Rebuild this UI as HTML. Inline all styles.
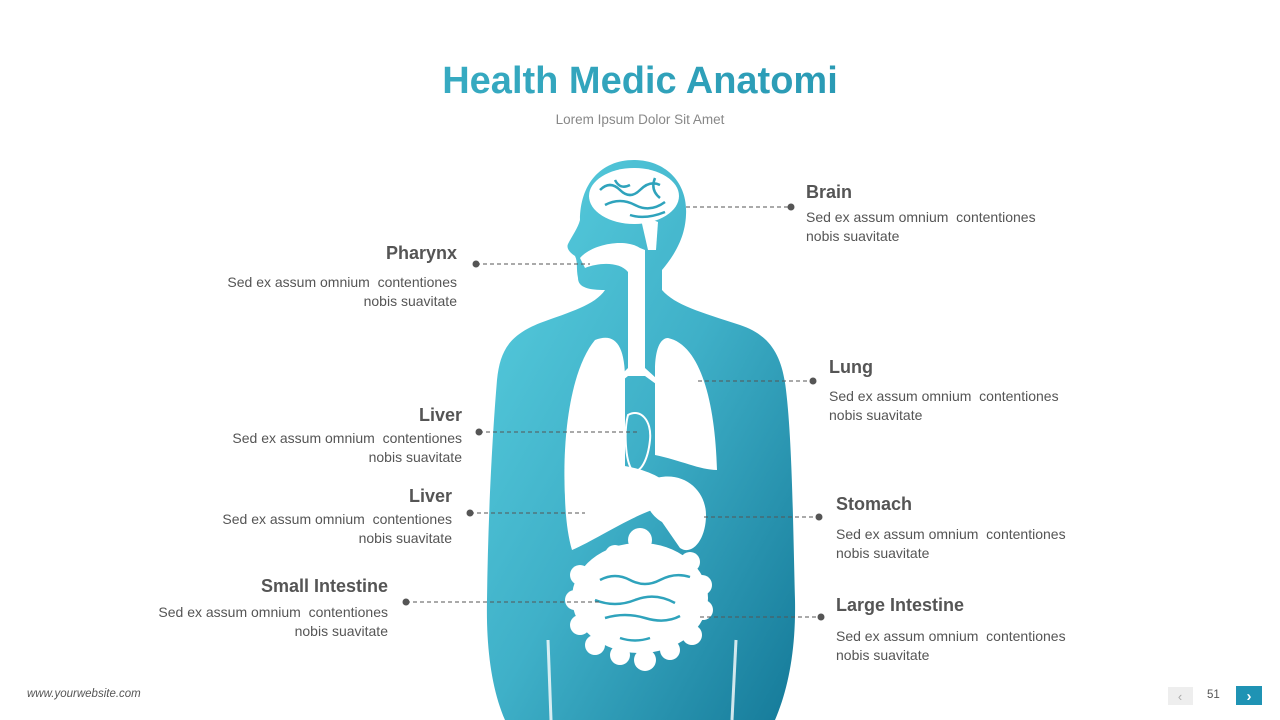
<!DOCTYPE html>
<html><head><meta charset="utf-8"><style>
body{margin:0;width:1280px;height:720px;position:relative;overflow:hidden;background:#fff;font-family:"Liberation Sans",sans-serif;color:#555}
.t{position:absolute;white-space:nowrap}
h1{position:absolute;left:0;width:1280px;top:60px;margin:0;text-align:center;font-size:38px;font-weight:bold;color:#2ba6bf;background:linear-gradient(90deg,#45bdd0,#1c88a6);-webkit-background-clip:text;background-clip:text;-webkit-text-fill-color:transparent}
.sub{left:0;width:1280px;text-align:center;top:112px;font-size:13.5px;color:#888}
.h{font-size:18px;font-weight:bold;color:#555}
.p{font-size:14px;line-height:19px;color:#555}
.r{text-align:right}
</style></head><body>
<h1>Health Medic Anatomi</h1>
<div class="t sub">Lorem Ipsum Dolor Sit Amet</div>

<svg width="1280" height="720" style="position:absolute;left:0;top:0">
<defs><linearGradient id="g" x1="0" y1="0" x2="1" y2="1">
<stop offset="0" stop-color="#5ad0e0"/><stop offset="0.5" stop-color="#3fb0c8"/><stop offset="1" stop-color="#157a99"/></linearGradient></defs>
<path fill="url(#g)" d="M634,160 C665,160 688,182 686,215 C685,240 672,258 662,270 L662,290 C675,305 700,312 740,325 C770,335 782,355 786,390 C792,440 793,520 795,600 C796,650 788,690 775,720 L505,720 C492,690 486,650 487,600 C488,520 492,440 497,380 C500,350 510,335 540,323 C570,312 595,305 605,290 C590,290 578,288 578,278 C576,268 578,262 575,256 C570,253 566,248 568,244 C572,236 578,228 580,220 C580,185 600,160 634,160 Z"/>
<g stroke="#fff" stroke-width="3" opacity="0.8"><line x1="548" y1="640" x2="551" y2="720"/><line x1="736" y1="640" x2="732" y2="720"/></g>
<g fill="#fff">
<ellipse cx="634" cy="196" rx="45" ry="28"/>
<path d="M640,215 L658,222 L656,250 L648,250 Z"/>
<path d="M580,258 C592,244 625,238 640,248 L645,250 L645,372 L628,372 L628,272 C620,262 600,262 585,268 Z"/>
<path d="M628,368 L645,368 L656,378 L656,384 L645,376 L628,376 L618,384 L618,378 Z"/>
<path d="M595,340 C615,332 625,345 625,380 L625,470 C610,490 590,495 565,495 C562,440 570,370 595,340 Z"/>
<path d="M668,338 C700,345 715,400 717,470 C700,470 680,460 655,455 L655,370 C655,350 660,338 668,338 Z"/>
<path d="M565,470 C600,458 640,466 660,478 L652,510 C625,520 595,540 572,550 C566,530 564,500 565,470 Z"/>
<path d="M650,480 C680,468 706,488 706,515 C706,540 692,556 680,548 L662,522 C650,515 640,500 650,480 Z"/>
<ellipse cx="640" cy="598" rx="68" ry="55"/>
<circle cx="580" cy="575" r="10"/><circle cx="575" cy="600" r="10"/><circle cx="580" cy="625" r="10"/><circle cx="595" cy="645" r="10"/>
<circle cx="620" cy="655" r="10"/><circle cx="645" cy="660" r="11"/><circle cx="670" cy="650" r="10"/><circle cx="692" cy="635" r="10"/>
<circle cx="703" cy="610" r="10"/><circle cx="702" cy="585" r="10"/><circle cx="690" cy="562" r="10"/><circle cx="640" cy="540" r="12"/><circle cx="615" cy="555" r="10"/>
</g>
<g fill="none" stroke="#2fa3bc" stroke-width="2.5">
<path d="M600,190 q10,-10 20,0 t20,0 t20,-5 M605,205 q15,-8 30,0 t30,-3 M615,180 q5,10 15,5 M655,178 q-5,12 5,20 M630,215 q15,5 35,-3"/>
<path d="M600,580 q15,-8 30,0 t30,0 t30,-3 M595,600 q20,8 40,0 t40,3 M605,618 q20,-6 40,0 t35,-2 M620,638 q15,5 30,0"/>
</g>
<path d="M628,415 C640,408 652,420 650,440 C648,460 640,475 632,470 C625,460 624,430 628,415 Z" fill="none" stroke="#fff" stroke-width="2"/>
<g stroke="#555" stroke-width="1" stroke-dasharray="4,3">
<line x1="686" y1="207" x2="791" y2="207"/><line x1="476" y1="264" x2="590" y2="264"/>
<line x1="698" y1="381" x2="813" y2="381"/><line x1="479" y1="432" x2="640" y2="432"/>
<line x1="470" y1="513" x2="585" y2="513"/><line x1="704" y1="517" x2="819" y2="517"/>
<line x1="406" y1="602" x2="600" y2="602"/><line x1="700" y1="617" x2="821" y2="617"/>
</g>
<g fill="#555">
<circle cx="791" cy="207" r="3.5"/><circle cx="476" cy="264" r="3.5"/><circle cx="813" cy="381" r="3.5"/><circle cx="479" cy="432" r="3.5"/>
<circle cx="470" cy="513" r="3.5"/><circle cx="819" cy="517" r="3.5"/><circle cx="406" cy="602" r="3.5"/><circle cx="821" cy="617" r="3.5"/>
</g>
<rect x="1168" y="687" width="25" height="18" fill="#eee"/>
<text x="1180" y="701" font-size="13" fill="#aaa" text-anchor="middle" font-family="Liberation Sans">‹</text>
<rect x="1236" y="686" width="26" height="19" fill="#1f93b4"/>
<text x="1249" y="701" font-size="15" font-weight="bold" fill="#fff" text-anchor="middle" font-family="Liberation Sans">›</text>
</svg>

<div class="t h" style="left:806px;top:182px">Brain</div>
<div class="t p" style="left:806px;top:208px">Sed ex assum omnium&nbsp; contentiones<br>nobis suavitate</div>
<div class="t h r" style="right:823px;top:243px">Pharynx</div>
<div class="t p r" style="right:823px;top:273px">Sed ex assum omnium&nbsp; contentiones<br>nobis suavitate</div>
<div class="t h" style="left:829px;top:357px">Lung</div>
<div class="t p" style="left:829px;top:387px">Sed ex assum omnium&nbsp; contentiones<br>nobis suavitate</div>
<div class="t h r" style="right:818px;top:405px">Liver</div>
<div class="t p r" style="right:818px;top:429px">Sed ex assum omnium&nbsp; contentiones<br>nobis suavitate</div>
<div class="t h r" style="right:828px;top:486px">Liver</div>
<div class="t p r" style="right:828px;top:510px">Sed ex assum omnium&nbsp; contentiones<br>nobis suavitate</div>
<div class="t h" style="left:836px;top:494px">Stomach</div>
<div class="t p" style="left:836px;top:525px">Sed ex assum omnium&nbsp; contentiones<br>nobis suavitate</div>
<div class="t h r" style="right:892px;top:576px">Small Intestine</div>
<div class="t p r" style="right:892px;top:603px">Sed ex assum omnium&nbsp; contentiones<br>nobis suavitate</div>
<div class="t h" style="left:836px;top:595px">Large Intestine</div>
<div class="t p" style="left:836px;top:627px">Sed ex assum omnium&nbsp; contentiones<br>nobis suavitate</div>

<div class="t" style="left:27px;top:688px;font-size:11.5px;font-style:italic;color:#555">www.yourwebsite.com</div>
<div class="t" style="left:1207px;top:689px;font-size:11.5px;color:#555">51</div>
</body></html>
